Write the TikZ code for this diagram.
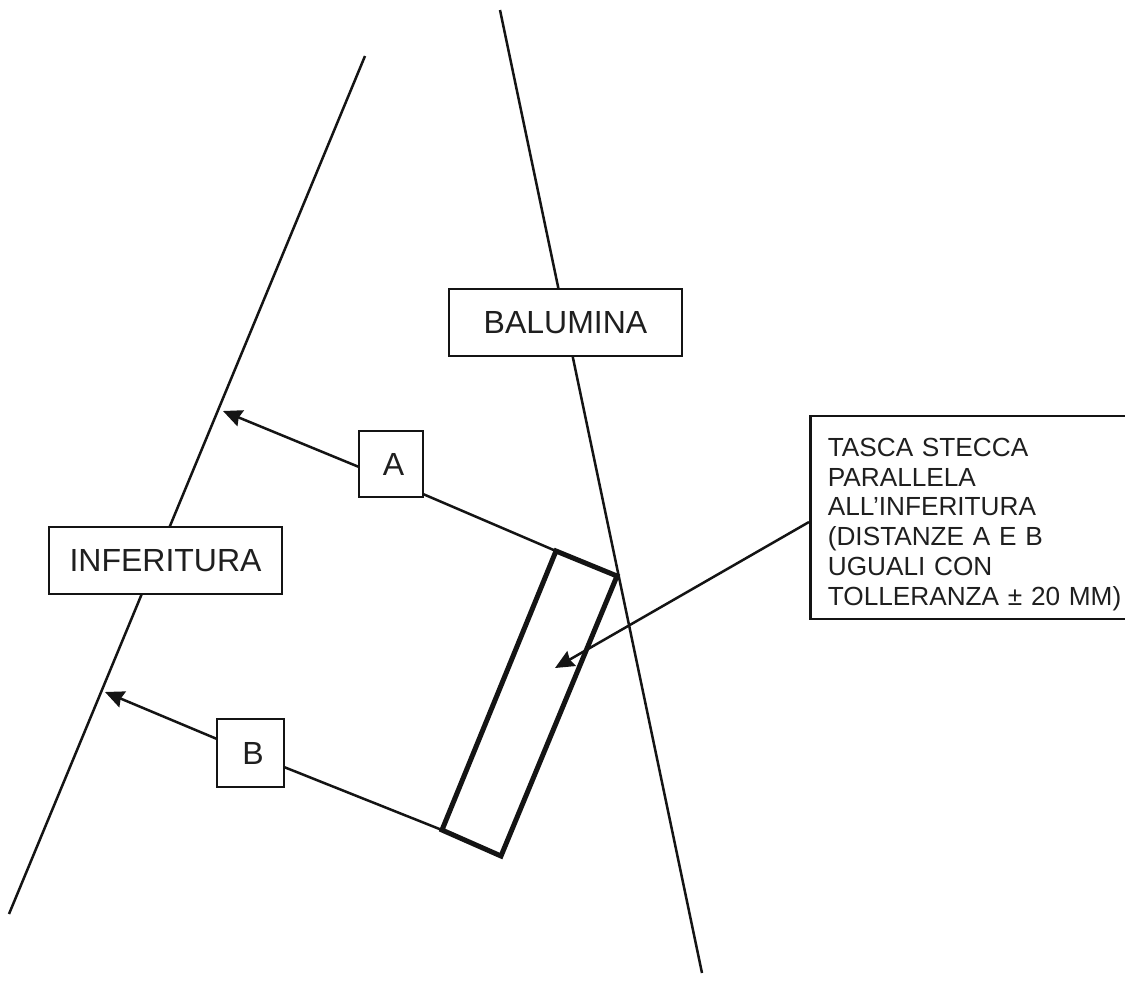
\documentclass[tikz,border=0pt]{standalone}
\usepackage{fontspec}
\setmainfont{Liberation Sans}
\usetikzlibrary{arrows.meta}
\tikzset{
 x=1pt,y=-1pt,
 lab/.style={draw=black!92,line width=2.7pt,fill=white,inner sep=0pt,font=\fontsize{32}{38}\selectfont,text=black!88},
 thinline/.style={draw=black!92,line width=2.5pt},
 arr/.style={thinline,-{Stealth[length=19pt,width=17pt,inset=2pt]}},
 pocket/.style={draw=black!92,line width=5pt,line join=miter}
}
\begin{document}
\begin{tikzpicture}
\useasboundingbox (0,0) rectangle (1125,1002);
\fill[white] (0,0) rectangle (1125,1002);
\coordinate (i1) at (365,56); \coordinate (i2) at (9,914);
\coordinate (b1) at (500,10); \coordinate (b2) at (702,973);
\draw[thinline] (i1)--(i2);
\draw[thinline] (b1)--(b2);
\coordinate (p1) at (556,551); \coordinate (p2) at (617,576); \coordinate (p3) at (501,856); \coordinate (p4) at (442,830);
\draw[pocket] (p1)--(p2)--(p3)--(p4)--cycle;
\coordinate (ta) at (223,411); \coordinate (tb) at (105,692); \coordinate (tt) at (555,668);
\coordinate (as) at (359,467); \coordinate (ae) at (423,494);
\coordinate (bs) at (217,739); \coordinate (be) at (284,767);
\coordinate (ts) at (809,522);
\node[lab,minimum width=233pt,minimum height=67pt] (bal) at (565.5,322.5) {BALUMINA};
\node[lab,minimum width=233pt,minimum height=67pt] (inf) at (165.5,560.5) {INFERITURA};
\node[lab,minimum width=64pt,minimum height=66pt] (A) at (391,464) {\hspace{5pt}A};
\node[lab,minimum width=67pt,minimum height=68pt] (B) at (250.5,753) {\hspace{5pt}B};
\node[lab,minimum width=330pt,minimum height=203pt,font=\fontsize{26.2}{29.7}\selectfont,align=left,text width=295pt,inner xsep=0pt,anchor=west] (T) at (809,517.5) {\rule{0pt}{32pt}TASCA STECCA\\PARALLELA\\ALL’INFERITURA\\(DISTANZE A E B\\UGUALI CON\\TOLLERANZA ± 20 MM)};
\draw[arr] (as) -- (ta);
\draw[thinline] (p1) -- (ae);
\draw[arr] (bs) -- (tb);
\draw[thinline] (p4) -- (be);
\draw[arr] (ts) -- (tt);
\end{tikzpicture}
\end{document}
